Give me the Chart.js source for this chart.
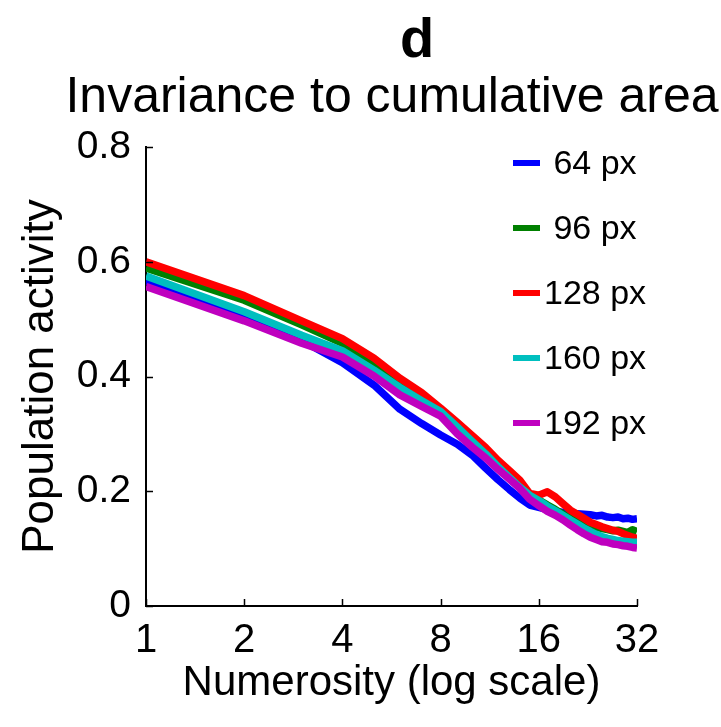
<!DOCTYPE html>
<html lang="en">
<head>
  <meta charset="UTF-8">
  <title>Invariance to cumulative area</title>
  <script src="https://cdn.jsdelivr.net/npm/chart.js"></script>
  <style>
    body { margin: 0; background: #fff; overflow: hidden; }
    #wrap { width: 721px; height: 727px; position: relative; }
  </style>
</head>
<body>
  <div id="wrap"><canvas id="grafico"></canvas></div>

  <script>
    // numerosity values (x axis, log scale)
    const numerosity = [1, 2, 3, 4, 5, 6, 7, 8, 9, 10, 11, 12, 13, 14, 15, 16,
                        17, 18, 19, 20, 21, 22, 23, 24, 25, 26, 27, 28, 29, 30, 31, 32];
    const xTicks = [1, 2, 4, 8, 16, 32];
    const yTicks = [0, 0.2, 0.4, 0.6, 0.8];
    const seriesNames = [' 64 px', ' 96 px', '128 px', '160 px', '192 px'];
    const seriesColors = ['#0000ff', '#008000', '#ff0000', '#00bfbf', '#bf00bf'];

    // population activity
    const px64 = [0.567, 0.503, 0.463, 0.424, 0.385, 0.343, 0.318, 0.298, 0.282, 0.263, 0.240,
                  0.220, 0.203, 0.188, 0.176, 0.172, 0.168, 0.165, 0.163, 0.162, 0.161, 0.160,
                  0.159, 0.157, 0.158, 0.155, 0.154, 0.155, 0.152, 0.153, 0.151, 0.152];
    const px96 = [0.589, 0.533, 0.490, 0.458, 0.423, 0.388, 0.360, 0.340, 0.315, 0.290, 0.266,
                  0.245, 0.226, 0.210, 0.195, 0.185, 0.176, 0.168, 0.160, 0.153, 0.148, 0.143,
                  0.140, 0.137, 0.135, 0.133, 0.131, 0.132, 0.130, 0.128, 0.133, 0.130];
    const px128 = [0.600, 0.541, 0.497, 0.466, 0.432, 0.397, 0.372, 0.345, 0.320, 0.297, 0.276,
                   0.254, 0.236, 0.219, 0.196, 0.193, 0.199, 0.190, 0.178, 0.167, 0.160, 0.153,
                   0.146, 0.142, 0.138, 0.135, 0.132, 0.130, 0.126, 0.123, 0.120, 0.118];
    const px160 = [0.575, 0.513, 0.472, 0.445, 0.411, 0.381, 0.358, 0.339, 0.312, 0.287, 0.265,
                   0.243, 0.224, 0.207, 0.193, 0.184, 0.174, 0.166, 0.158, 0.150, 0.143, 0.136,
                   0.130, 0.125, 0.121, 0.118, 0.116, 0.114, 0.113, 0.112, 0.111, 0.111];
    const px192 = [0.557, 0.497, 0.458, 0.434, 0.401, 0.368, 0.348, 0.331, 0.300, 0.277, 0.258,
                   0.238, 0.221, 0.205, 0.186, 0.175, 0.165, 0.158, 0.150, 0.141, 0.133, 0.126,
                   0.120, 0.116, 0.112, 0.111, 0.108, 0.107, 0.105, 0.104, 0.102, 0.101];
    const seriesValues = [px64, px96, px128, px160, px192];

    const FONT = "'Liberation Sans', Arial, sans-serif";

    // panel letter, title, inward tick marks and legend drawn on the canvas
    const header = {
      id: 'header',
      afterDraw(chart) {
        const ctx = chart.ctx;
        const { x, y } = chart.scales;
        const area = chart.chartArea;
        ctx.save();

        // inward ticks (matlab style)
        ctx.strokeStyle = '#000';
        ctx.lineWidth = 1.5;
        ctx.beginPath();
        xTicks.forEach(v => {
          const px = Math.round(x.getPixelForValue(v)) + 0.5;
          ctx.moveTo(px, area.bottom);
          ctx.lineTo(px, area.bottom - 7);
        });
        yTicks.forEach(v => {
          const py = Math.round(y.getPixelForValue(v)) + 0.5;
          ctx.moveTo(area.left, py);
          ctx.lineTo(area.left + 7, py);
        });
        ctx.stroke();

        ctx.fillStyle = '#000';
        ctx.textAlign = 'center';
        ctx.textBaseline = 'alphabetic';
        ctx.font = 'bold 56px ' + FONT;
        ctx.fillText('d', 417, 57);
        ctx.font = '50px ' + FONT;
        ctx.fillText('Invariance to cumulative area', 392, 112);

        // legend
        ctx.font = '34px ' + FONT;
        ctx.textAlign = 'left';
        ctx.textBaseline = 'middle';
        chart.data.datasets.forEach((ds, i) => {
          const ly = 163 + i * 65;
          ctx.strokeStyle = ds.borderColor;
          ctx.lineWidth = 6;
          ctx.beginPath();
          ctx.moveTo(513, ly);
          ctx.lineTo(540, ly);
          ctx.stroke();
          ctx.fillStyle = '#000';
          ctx.fillText(ds.label, 544, ly + 2);
        });
        ctx.restore();
      }
    };

    const datasets = seriesValues.map((vals, i) => ({
      label: seriesNames[i],
      data: vals.map((v, j) => ({ x: numerosity[j], y: v })),
      borderColor: seriesColors[i],
      borderWidth: 7.5,
      pointRadius: 0,
      tension: 0,
      fill: false,
      borderJoinStyle: 'round',
      order: seriesValues.length - i
    }));

    const ctx = document.getElementById('grafico').getContext('2d');
    new Chart(ctx, {
      type: 'line',
      data: { datasets },
      options: {
        responsive: true,
        maintainAspectRatio: false,
        animation: false,
        layout: { padding: { top: 147, right: 84, left: 0, bottom: 0 } },
        plugins: {
          legend: { display: false },
          tooltip: { enabled: false }
        },
        scales: {
          x: {
            type: 'logarithmic',
            min: 1,
            max: 32,
            afterBuildTicks: s => { s.ticks = xTicks.map(v => ({ value: v })); },
            afterFit: s => { s.height = 121; },
            ticks: {
              color: '#000',
              font: { family: FONT, size: 40 },
              padding: 11,
              maxRotation: 0,
              autoSkip: false,
              callback: v => String(v)
            },
            grid: { drawOnChartArea: false, drawTicks: false },
            border: { display: true, color: '#000', width: 2 },
            title: {
              display: true,
              text: 'Numerosity (log scale)',
              color: '#000',
              font: { family: FONT, size: 42 },
              padding: { top: 0, bottom: 18 }
            }
          },
          y: {
            min: 0,
            max: 0.8,
            afterBuildTicks: s => { s.ticks = yTicks.map(v => ({ value: v })); },
            afterFit: s => { s.width = 146; },
            ticks: {
              color: '#000',
              font: { family: FONT, size: 39 },
              padding: 15
            },
            grid: { drawOnChartArea: false, drawTicks: false },
            border: { display: true, color: '#000', width: 2 },
            title: {
              display: true,
              text: 'Population activity',
              color: '#000',
              font: { family: FONT, size: 44 },
              padding: { top: 14, bottom: 0 }
            }
          }
        }
      },
      plugins: [header]
    });
  </script>
</body>
</html>
